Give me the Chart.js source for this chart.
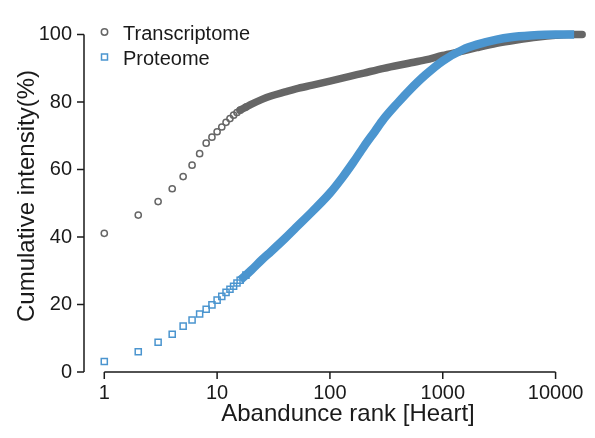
<!DOCTYPE html>
<html>
<head>
<meta charset="utf-8">
<script src="https://cdn.jsdelivr.net/npm/chart.js@4.4.1/dist/chart.umd.min.js"></script>
<style>
  html, body { margin: 0; padding: 0; background: #fff; }
  #wrap { width: 595px; height: 438px; }
</style>
</head>
<body>
<div id="wrap"><canvas id="rankChart" width="595" height="438"></canvas></div>
<script>
// values (rank on log axis, cumulative %)
const transcriptRank = [1, 2, 3, 4, 5, 6, 7, 8, 9, 10, 11, 12, 13, 14, 15, 16, 18, 20, 25, 30, 40, 50, 70, 100, 150, 200, 300, 500, 700, 1000, 1500, 2000, 3000, 4500, 7000, 10000, 13000, 17200];
const transcriptPct = [41.1, 46.5, 50.5, 54.3, 57.9, 61.3, 64.7, 67.8, 69.6, 71.2, 72.6, 74.0, 75.1, 76.1, 76.9, 77.6, 78.5, 79.3, 80.8, 81.8, 83.0, 83.9, 85.0, 86.2, 87.6, 88.6, 90.0, 91.5, 92.5, 93.8, 95.1, 96.1, 97.4, 98.4, 99.3, 99.8, 100, 100];

const proteomeRank = [1, 2, 3, 4, 5, 6, 7, 8, 9, 10, 11, 12, 13, 14, 15, 16, 18, 20, 25, 30, 40, 50, 70, 100, 130, 160, 200, 250, 300, 400, 500, 700, 1000, 1500, 2000, 3000, 4000, 6000, 10000, 14600];
const proteomePct = [3.1, 6.0, 8.8, 11.2, 13.6, 15.4, 17.2, 18.6, 19.9, 21.3, 22.4, 23.6, 24.5, 25.4, 26.4, 27.2, 28.7, 30.1, 33.3, 35.7, 39.6, 42.8, 47.6, 53.0, 57.8, 62.0, 66.8, 71.3, 75.0, 79.8, 83.3, 88.0, 92.2, 95.5, 97.0, 98.5, 99.2, 99.7, 100, 100];

const xTicks = [1, 10, 100, 1000, 10000];
const yTicks = [0, 20, 40, 60, 80, 100];

const GREY = '#666666';
const BLUE = '#4B95CF';
const INK = '#1a1a1a';
const LINE_FROM = 16;   // markers merge into a band from here
const MARKERS_TO = 18;  // last rank still drawn as a separate marker

Chart.defaults.font.family = '"Liberation Sans", Arial, Helvetica, sans-serif';
Chart.defaults.color = INK;

function toPoints(ranks, vals) {
  return ranks.map((r, i) => ({ x: r, y: vals[i] }));
}

// axis lines drawn R-style (detached), plus legend and axis titles
const rStyleAxes = {
  id: 'rStyleAxes',
  afterDraw(chart) {
    const { ctx, chartArea, scales: { x, y } } = chart;
    ctx.save();
    ctx.strokeStyle = INK;
    ctx.lineWidth = 1.5;
    ctx.beginPath();
    const ax = chartArea.left;
    ctx.moveTo(ax, y.getPixelForValue(yTicks[0]));
    ctx.lineTo(ax, y.getPixelForValue(yTicks[yTicks.length - 1]));
    yTicks.forEach(v => {
      const py = y.getPixelForValue(v);
      ctx.moveTo(ax, py);
      ctx.lineTo(ax - 7, py);
    });
    const ay = chartArea.bottom;
    ctx.moveTo(x.getPixelForValue(xTicks[0]), ay);
    ctx.lineTo(x.getPixelForValue(xTicks[xTicks.length - 1]), ay);
    xTicks.forEach(v => {
      const px = x.getPixelForValue(v);
      ctx.moveTo(px, ay);
      ctx.lineTo(px, ay + 7);
    });
    ctx.stroke();

    // axis titles
    ctx.fillStyle = INK;
    ctx.font = '24px "Liberation Sans", Arial, sans-serif';
    ctx.textAlign = 'center';
    ctx.textBaseline = 'alphabetic';
    ctx.fillText('Abandunce rank [Heart]', 348, 421);
    ctx.save();
    ctx.translate(34, 196);
    ctx.rotate(-Math.PI / 2);
    ctx.fillText('Cumulative intensity(%)', 0, 0);
    ctx.restore();

    // legend
    ctx.font = '20px "Liberation Sans", Arial, sans-serif';
    ctx.textAlign = 'left';
    ctx.lineWidth = 1.5;
    ctx.strokeStyle = GREY;
    ctx.beginPath();
    ctx.arc(104.5, 32, 3.2, 0, Math.PI * 2);
    ctx.stroke();
    ctx.strokeStyle = BLUE;
    ctx.strokeRect(101.5, 54, 6, 6);
    ctx.fillText('Transcriptome', 123, 39.5);
    ctx.fillText('Proteome', 123, 64.5);
    ctx.restore();
  }
};

function series(label, ranks, vals, color, style, radius, width, cap, order) {
  return {
    label: label,
    data: toPoints(ranks, vals),
    showLine: true,
    order: order,
    clip: false,
    cubicInterpolationMode: 'monotone',
    borderColor: color,
    borderWidth: width,
    borderCapStyle: cap,
    segment: {
      borderColor: c => (c.p0.parsed.x >= LINE_FROM ? color : 'rgba(0,0,0,0)')
    },
    pointStyle: style,
    pointRadius: c => (c.raw && c.raw.x > MARKERS_TO ? 0 : radius),
    pointBorderWidth: 1.5,
    pointBorderColor: color,
    pointBackgroundColor: 'rgba(0,0,0,0)'
  };
}

new Chart(document.getElementById('rankChart'), {
  type: 'scatter',
  data: {
    datasets: [
      series('Transcriptome', transcriptRank, transcriptPct, GREY, 'circle', 3.1, 7.5, 'round', 2),
      series('Proteome', proteomeRank, proteomePct, BLUE, 'rect', 4.3, 8.5, 'butt', 1)
    ]
  },
  options: {
    responsive: false,
    animation: false,
    events: [],
    layout: { padding: { top: 10, right: 0, bottom: 0, left: 0 } },
    plugins: {
      legend: { display: false },
      tooltip: { enabled: false }
    },
    scales: {
      x: {
        type: 'logarithmic',
        min: 0.661,
        max: 19860,
        grid: { display: false, drawTicks: false },
        border: { display: false },
        afterBuildTicks: s => { s.ticks = xTicks.map(v => ({ value: v })); },
        afterFit: s => { s.height = 66; },
        ticks: {
          autoSkip: false,
          maxRotation: 0,
          padding: 9,
          font: { size: 20 },
          color: INK,
          callback: v => String(v)
        }
      },
      y: {
        min: 0,
        max: 103.13,
        grid: { display: false, drawTicks: false },
        border: { display: false },
        afterBuildTicks: s => { s.ticks = yTicks.map(v => ({ value: v })); },
        afterFit: s => { s.width = 84; },
        ticks: {
          padding: 12,
          font: { size: 20 },
          color: INK,
          callback: v => String(v)
        }
      }
    }
  },
  plugins: [rStyleAxes]
});
</script>
</body>
</html>
